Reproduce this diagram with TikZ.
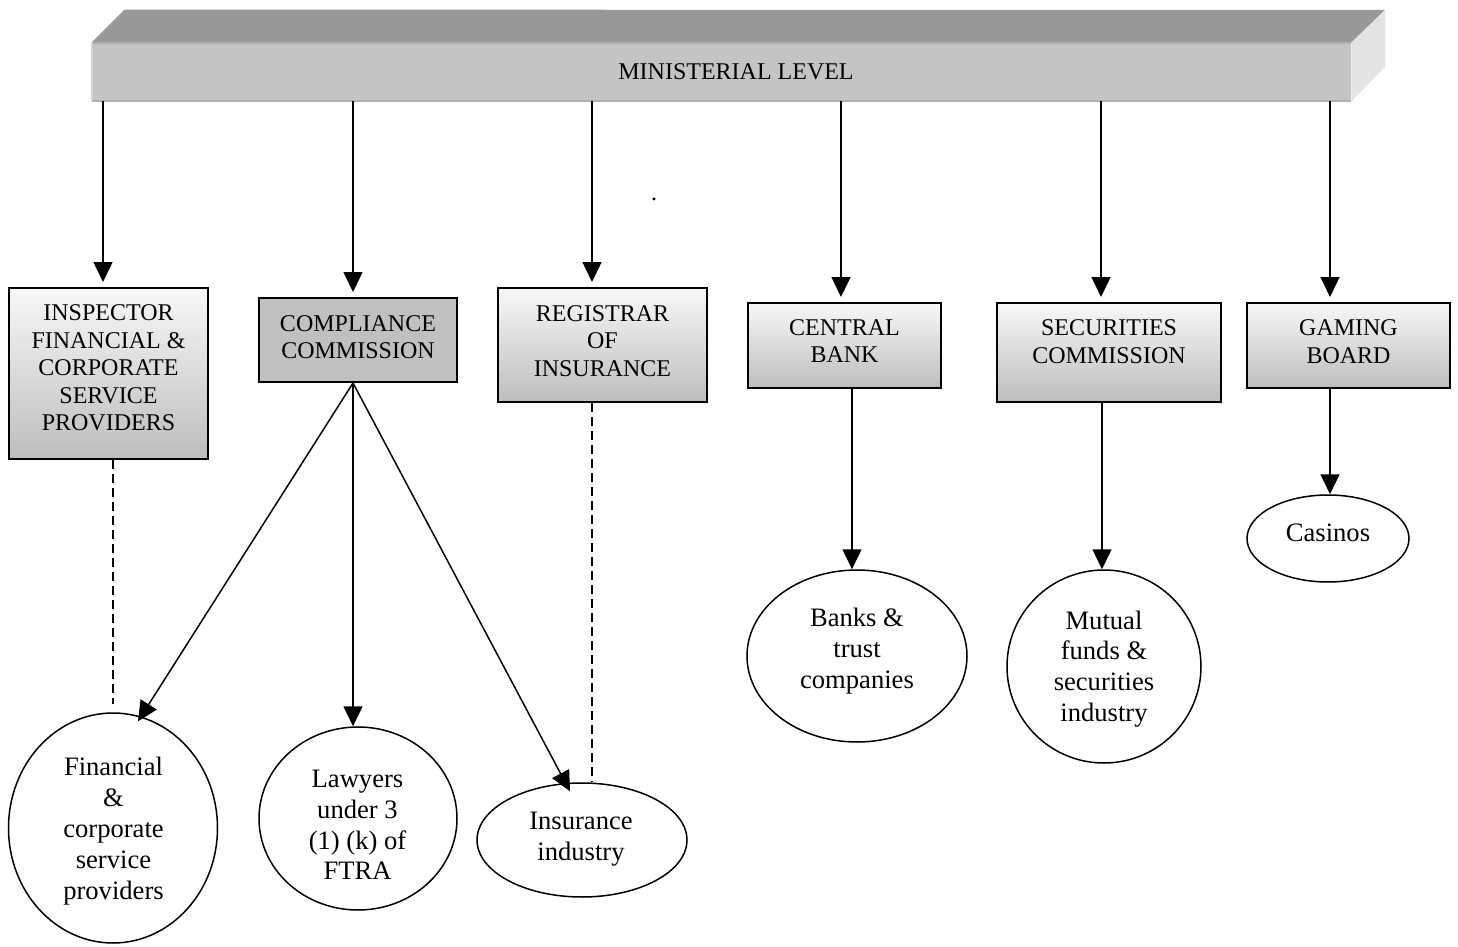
\documentclass[tikz,border=0pt]{standalone}
\usepackage{fontspec}
\setmainfont{Liberation Serif}
\usetikzlibrary{arrows.meta,shapes.geometric,calc}
\definecolor{bartop}{HTML}{999999}
\definecolor{barfront}{HTML}{C4C4C4}
\definecolor{baredge}{HTML}{B0B0B0}
\definecolor{barleft}{HTML}{D4D4D4}
\definecolor{barside}{HTML}{E4E4E4}
\definecolor{boxtop}{HTML}{F8F8F8}
\definecolor{boxbot}{HTML}{BDBDBD}
\definecolor{solidbox}{HTML}{C0C0C0}
\begin{document}
\begin{tikzpicture}[x=0.5pt,y=-0.5pt,
  gbox/.style={draw, line width=1pt, rectangle, inner sep=0pt, top color=boxtop, bottom color=boxbot},
  sbox/.style={draw, line width=1pt, rectangle, inner sep=0pt, fill=solidbox},
  oval/.style={draw, ellipse, line width=0.75pt, inner sep=0pt},
  btxt/.style={align=center, inner sep=0pt, font=\fontsize{12}{13.75}\selectfont},
  otxt/.style={align=center, inner sep=0pt, font=\fontsize{13.3}{15.4}\selectfont},
  arr/.style={line width=0.75pt, -{Triangle[length=10pt,width=9.5pt]}},
  dline/.style={line width=0.75pt, dash pattern=on 4.5pt off 2.5pt}
]
\path[use as bounding box] (0,0) rectangle (1458,947);

% ministerial bar
\node[inner sep=0pt, minimum width=629.5pt, minimum height=29pt, fill=barfront] (bar) at (721.5,72) {};
\fill[bartop] (bar.north west) -- ++(33,-33) -- (1385,10) -- (bar.north east) -- cycle;
\fill[barside] (bar.north east) -- (1385,10) -- (1385,67) -- (bar.south east) -- cycle;
\draw[baredge, line width=1pt] (bar.north west) -- (bar.north east);
\draw[baredge, line width=1pt] (bar.south west) -- (bar.south east);
\draw[barleft, line width=1pt] (bar.north west) -- (bar.south west);
\node[btxt] (barT) at (736,72) {MINISTERIAL LEVEL};

% boxes
\node[gbox, minimum width=99.5pt, minimum height=85.5pt] (ins) at (108.5,373.5) {};
\node[sbox, minimum width=99pt, minimum height=42pt] (comp) at (358,340) {};
\node[gbox, minimum width=104.5pt, minimum height=57pt] (reg) at (602.5,345) {};
\node[gbox, minimum width=96.5pt, minimum height=42.5pt] (cb) at (844.5,345.5) {};
\node[gbox, minimum width=112pt, minimum height=49.5pt] (sec) at (1109,352.5) {};
\node[gbox, minimum width=101.5pt, minimum height=42.5pt] (gam) at (1348.5,345.5) {};

\node[btxt] (insT) at (108.5,368) {INSPECTOR\\FINANCIAL \&\\CORPORATE\\SERVICE\\PROVIDERS};
\node[btxt] (compT) at (358,337) {COMPLIANCE\\COMMISSION};
\node[btxt] (regT) at (602.5,341) {REGISTRAR\\OF\\INSURANCE};
\node[btxt] (cbT) at (844.5,341) {CENTRAL\\BANK};
\node[btxt] (secT) at (1109,341.5) {SECURITIES\\COMMISSION};
\node[btxt] (gamT) at (1348.5,341.5) {GAMING\\BOARD};

% ellipses
\node[oval, minimum width=104.5pt, minimum height=115pt] (e1) at (113,828) {};
\node[oval, minimum width=99pt, minimum height=91.5pt] (e2) at (358,818.5) {};
\node[oval, minimum width=105pt, minimum height=57pt] (e3) at (582,840) {};
\node[oval, minimum width=110pt, minimum height=86pt] (e4) at (857,656) {};
\node[oval, minimum width=97pt, minimum height=96.5pt] (e5) at (1104,666.5) {};
\node[oval, minimum width=81pt, minimum height=43.5pt] (e6) at (1328,538.5) {};

\node[otxt] (e1T) at (113.5,831) {Financial\\\&\\corporate\\service\\providers};
\node[otxt] (e2T) at (357.5,825) {Lawyers\\under 3\\(1) (k) of\\FTRA};
\node[otxt] (e3T) at (581,839) {Insurance\\industry};
\node[otxt] (e4T) at (857,651) {Banks \&\\trust\\companies};
\node[otxt] (e5T) at (1104,669) {Mutual\\funds \&\\securities\\industry};
\node[otxt] (e6T) at (1328,533) {Casinos};

% stray dot
\node[anchor=base, inner sep=0pt, font=\fontsize{12}{14}\selectfont] (dot) at (654,201) {.};

% arrows from the ministerial level
\draw[arr, shorten >=2.5pt] (103,0 |- bar.south) -- (103,0 |- ins.north);
\draw[arr, shorten >=2.5pt] (353,0 |- bar.south) -- (353,0 |- comp.north);
\draw[arr, shorten >=2.5pt] (592,0 |- bar.south) -- (592,0 |- reg.north);
\draw[arr, shorten >=2.5pt] (841,0 |- bar.south) -- (841,0 |- cb.north);
\draw[arr, shorten >=2.5pt] (1101,0 |- bar.south) -- (1101,0 |- sec.north);
\draw[arr, shorten >=2.5pt] (1330,0 |- bar.south) -- (1330,0 |- gam.north);

% compliance commission
\draw[arr] (353,0 |- comp.south) -- ($(e1.north)+(25,9)$);
\draw[arr] (353,0 |- comp.south) -- (353,0 |- e2.north);
\draw[arr] (353,0 |- comp.south) -- ($(e3.north)+(-12,9)$);

% dashed links
\coordinate (e1top) at ($(e1.north)+(0,-8)$);
\draw[dline] (113,0 |- ins.south) -- (e1top);
\draw[dline] (592,0 |- reg.south) -- (592,0 |- e3.north);

% other supervisors
\draw[arr] (852,0 |- cb.south) -- (852,0 |- e4.north);
\draw[arr] (1102,0 |- sec.south) -- (1102,0 |- e5.north);
\draw[arr] (1330,0 |- gam.south) -- (1330,0 |- e6.north);
\end{tikzpicture}
\end{document}
